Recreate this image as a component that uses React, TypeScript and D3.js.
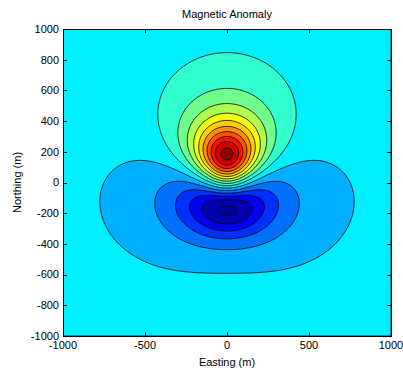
import React, { useEffect, useRef } from 'react'
import * as d3 from 'd3'

const chartWidth = 403
const chartHeight = 373
const margin = { top: 29, right: 12, bottom: 37, left: 63 }

const title = 'Magnetic Anomaly'
const xlab = 'Easting (m)'
const ylab = 'Northing (m)'
const xTicks = [-1000, -500, 0, 500, 1000]
const yTicks = [-1000, -800, -600, -400, -200, 0, 200, 400, 600, 800, 1000]
const xlim = [-1000, 1000]
const ylim = [-1000, 1000]

// magnetised body (induced), N-S elongated prism
const sourceTop = 250
const sourceBottom = 290
const sourceHalfX = 40
const sourceHalfY = 150
const sourceCells = 7
const inclination = -38
const declination = 0

// anomaly scaled to a peak of 100 nT; contour levels and colour limits (nT)
const peakAnomaly = 100
const contourLevels = [-54, -44, -34, -24, -14, -4, 6, 16, 26, 36, 46, 56, 66, 76, 86, 96]
const colorLimits = [-60, 100]

const gridCells = 200

// matlab jet(64), row 1..64
const jet = (row: number) => {
  const u = (k: number) => (k < 1 || k > 47 ? 0 : k <= 16 ? k / 16 : k <= 31 ? 1 : (48 - k) / 16)
  return d3.rgb(u(row - 24) * 255, u(row - 8) * 255, u(row + 8) * 255).formatHex()
}

const App = () => {
  const ref = useRef<SVGSVGElement>(null)

  useEffect(() => {
    d3.select(ref.current).selectAll('*').remove()

    const width = chartWidth - margin.left - margin.right
    const height = chartHeight - margin.top - margin.bottom

    const x = d3.scaleLinear().domain(xlim).range([0, width])
    const y = d3.scaleLinear().domain(ylim).range([height, 0])

    // field grid
    const I = inclination * Math.PI / 180
    const D = declination * Math.PI / 180
    const fx = Math.cos(I) * Math.sin(D)
    const fy = Math.cos(I) * Math.cos(D)
    const fz = -Math.sin(I)
    const sources: [number, number, number][] = []
    for (let a = 0; a < sourceCells; a++)
      for (let b = 0; b < sourceCells; b++)
        for (let c = 0; c < sourceCells; c++)
          sources.push([
            -sourceHalfX + ((a + 0.5) * 2 * sourceHalfX) / sourceCells,
            -sourceHalfY + ((b + 0.5) * 2 * sourceHalfY) / sourceCells,
            sourceTop + ((c + 0.5) * (sourceBottom - sourceTop)) / sourceCells,
          ])

    const dx = (xlim[1] - xlim[0]) / gridCells
    const dy = (ylim[1] - ylim[0]) / gridCells
    const raw = new Float64Array(gridCells * gridCells)
    for (let j = 0; j < gridCells; j++) {
      const py = ylim[1] - (j + 0.5) * dy
      for (let i = 0; i < gridCells; i++) {
        const px = xlim[0] + (i + 0.5) * dx
        let t = 0
        for (const [sx, sy, sz] of sources) {
          const rx = px - sx
          const ry = py - sy
          const rz = sz
          const r2 = rx * rx + ry * ry + rz * rz
          const fr = fx * rx + fy * ry + fz * rz
          t += (3 * fr * fr - r2) / (r2 * r2 * Math.sqrt(r2))
        }
        raw[j * gridCells + i] = t
      }
    }
    const scale = peakAnomaly / (d3.max(raw) as number)
    const values = Array.from(raw, v => v * scale)

    const zmin = d3.min(values) as number
    const [cmin, cmax] = colorLimits
    const colorOf = (v: number) =>
      jet(Math.max(1, Math.min(64, Math.floor(((v - cmin) / (cmax - cmin)) * 64) + 1)))

    const bands = d3
      .contours()
      .size([gridCells, gridCells])
      .thresholds([zmin, ...contourLevels])(values)

    const path = d3.geoPath(
      d3.geoTransform({
        point: function (cx: number, cy: number) {
          this.stream.point(x(xlim[0] + cx * dx), y(ylim[1] - cy * dy))
        },
      })
    )

    const svg = d3
      .select(ref.current)
      .append('g')
      .attr('transform', `translate(${margin.left}, ${margin.top})`)

    svg
      .append('clipPath')
      .attr('id', 'plot-clip')
      .append('rect')
      .attr('width', width)
      .attr('height', height)

    svg
      .append('g')
      .attr('clip-path', 'url(#plot-clip)')
      .selectAll('path')
      .data(bands)
      .enter()
      .append('path')
      .attr('d', d => path(d as any))
      .attr('fill', d => colorOf(d.value))
      .attr('stroke', '#000')
      .attr('stroke-width', 0.8)

    // box + inward ticks on all sides
    const axes = svg.append('g').attr('font-family', 'Liberation Sans, Arial, sans-serif').attr('font-size', 11)
    axes
      .append('rect')
      .attr('x', 0.5)
      .attr('y', 0.5)
      .attr('width', width)
      .attr('height', height)
      .attr('fill', 'none')
      .attr('stroke', '#000')

    const tickLen = 4
    xTicks.forEach(t => {
      const px = Math.round(x(t)) + 0.5
      axes.append('line').attr('x1', px).attr('x2', px).attr('y1', height).attr('y2', height - tickLen).attr('stroke', '#000')
      axes.append('line').attr('x1', px).attr('x2', px).attr('y1', 0.5).attr('y2', tickLen).attr('stroke', '#000')
      axes
        .append('text')
        .text(t)
        .attr('x', x(t))
        .attr('y', height + 13)
        .attr('text-anchor', 'middle')
    })
    yTicks.forEach(t => {
      const py = Math.round(y(t)) + 0.5
      axes.append('line').attr('x1', 0.5).attr('x2', tickLen).attr('y1', py).attr('y2', py).attr('stroke', '#000')
      axes.append('line').attr('x1', width).attr('x2', width - tickLen).attr('y1', py).attr('y2', py).attr('stroke', '#000')
      axes
        .append('text')
        .text(t)
        .attr('x', -4)
        .attr('y', y(t))
        .attr('dy', '0.35em')
        .attr('text-anchor', 'end')
    })

    axes // title
      .append('text')
      .text(title)
      .attr('x', width / 2)
      .attr('y', -11)
      .attr('text-anchor', 'middle')

    axes // xlab
      .append('text')
      .text(xlab)
      .attr('x', width / 2)
      .attr('y', height + 30)
      .attr('text-anchor', 'middle')

    axes // ylab
      .append('text')
      .text(ylab)
      .attr('transform', 'rotate(-90)')
      .attr('x', -height / 2)
      .attr('y', -42)
      .attr('text-anchor', 'middle')
  }, [])

  return (
    <svg
      ref={ref}
      width={chartWidth}
      height={chartHeight}
      style={{ position: 'absolute', left: 0, top: 0, background: '#fff' }}
    />
  )
}

export default App
